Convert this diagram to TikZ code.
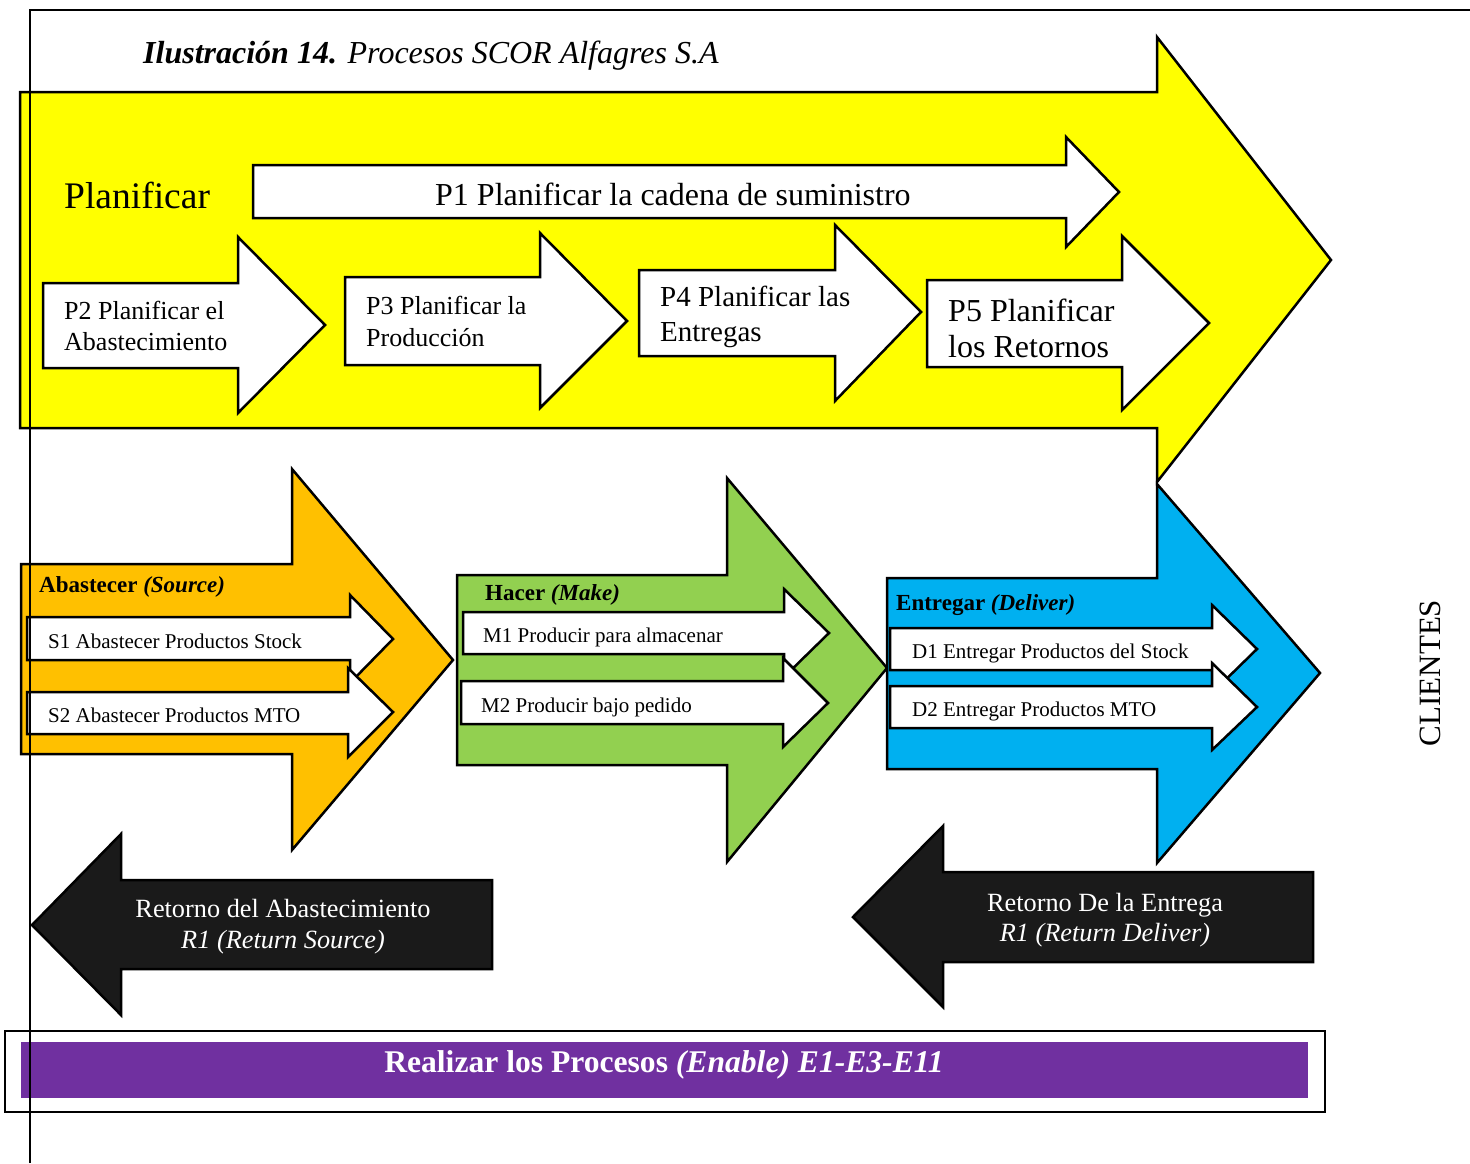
\documentclass[tikz,border=0pt]{standalone}
\usepackage{fontspec}
\setmainfont{Liberation Serif}
\definecolor{amarillo}{HTML}{FFFF00}
\definecolor{naranja}{HTML}{FFC000}
\definecolor{verde}{HTML}{92D050}
\definecolor{azul}{HTML}{00B0F0}
\definecolor{morado}{HTML}{7030A0}
\definecolor{negro}{HTML}{1A1A1A}
% (x body start, x head base)(y body top, y body bottom)(y head top, y head bottom)(tip)
\def\blockarrow[#1](#2,#3)(#4,#5)(#6,#7)(#8,#9){\draw[#1] (#2,#4) -- (#3,#4) -- (#3,#6) -- (#8,#9) -- (#3,#7) -- (#3,#5) -- (#2,#5) -- cycle;}
\newcommand{\tam}[2]{\fontsize{#1}{#2}\selectfont}
\tikzset{
  flecha/.style={draw=black, line width=2.5pt, line join=miter},
  texto/.style={inner sep=0pt, anchor=base west},
  bloque/.style={inner sep=0pt, anchor=west, align=left},
}

\begin{document}
\begin{tikzpicture}[x=1pt, y=-1pt]
			%%%%% START %%%%%
			\useasboundingbox (0,0) rectangle (1470,1163);
			
			\node[texto, font=\tam{32}{38}\itshape] (titulo) at (143,63) {\bfseries Ilustración 14.\mdseries{} Procesos SCOR Alfagres S.A};
			
			% planificar
			\blockarrow[flecha, fill=amarillo](20,1157)(92,428)(37,482)(1331,260)
			\node[texto, font=\tam{37.5}{44}] (planificar) at (64,208) {Planificar};
			
			\blockarrow[flecha, fill=white](253,1066)(165,218)(137,247)(1119,192)
			\node[texto, font=\tam{32}{38}] (p1) at (435,205) {P1 Planificar la cadena de suministro};
			
			\blockarrow[flecha, fill=white](43,238)(283,368)(237,413)(325,325)
			\node[bloque, font=\tam{26}{31}] (p2) at (64,326) {P2 Planificar el\\Abastecimiento};
			\blockarrow[flecha, fill=white](345,540)(277,365)(233,408)(627,321)
			\node[bloque, font=\tam{26}{32}] (p3) at (366,321) {P3 Planificar la\\Producción};
			\blockarrow[flecha, fill=white](639,835)(270,356)(225,401)(921,312)
			\node[bloque, font=\tam{29}{35}] (p4) at (660,317) {P4 Planificar las\\Entregas};
			\blockarrow[flecha, fill=white](927,1122)(280,367)(236,410)(1209,323)
			\node[bloque, font=\tam{32}{36}] (p5) at (948,328) {P5 Planificar\\los Retornos};
			
			% abastecer
			\blockarrow[flecha, fill=naranja](21,292)(564,754)(469,850)(453,660)
			\node[texto, font=\tam{23}{28}] (abastecer) at (39,592) {\bfseries Abastecer \itshape(Source)};
			\blockarrow[flecha, fill=white](27,350)(617,660)(595,683)(393,639)
			\blockarrow[flecha, fill=white](27,348)(692,734)(668,757)(393,712)
			\node[texto, font=\tam{21}{25}] (s1) at (48,648) {S1 Abastecer Productos Stock};
			\node[texto, font=\tam{21}{25}] (s2) at (48,722) {S2 Abastecer Productos MTO};
			
			% hacer
			\blockarrow[flecha, fill=verde](457,727)(575,765)(478,862)(887,668)
			\node[texto, font=\tam{23}{28}] (hacer) at (485,600) {\bfseries Hacer \itshape(Make)};
			\blockarrow[flecha, fill=white](463,784)(612,654)(589,677)(829,633)
			\blockarrow[flecha, fill=white](461,783)(681,724)(658,747)(828,703)
			\node[texto, font=\tam{21}{25}] (m1) at (483,642) {M1 Producir para almacenar};
			\node[texto, font=\tam{21}{25}] (m2) at (481,712) {M2 Producir bajo pedido};
			
			% entregar
			\blockarrow[flecha, fill=azul](887,1157)(578,769)(484,863)(1320,673)
			\node[texto, font=\tam{23}{28}] (entregar) at (896,610) {\bfseries Entregar \itshape(Deliver)};
			\blockarrow[flecha, fill=white](890,1212)(628,670)(605,693)(1257,649)
			\blockarrow[flecha, fill=white](890,1212)(686,728)(663,750)(1257,707)
			\node[texto, font=\tam{21}{25}] (d1) at (912,658) {D1 Entregar Productos del Stock};
			\node[texto, font=\tam{21}{25}] (d2) at (912,716) {D2 Entregar Productos MTO};
			
			\node[rotate=90, inner sep=0pt, font=\tam{31}{37}] (clientes) at (1430,673) {CLIENTES};
			
			% retornos
			\blockarrow[flecha, fill=negro](492,121)(880,969)(834,1015)(32,925)
			\node[inner sep=0pt, align=center, text=white, font=\tam{26.3}{31}] (rsource) at (283,927) {Retorno del Abastecimiento\\\itshape R1 (Return Source)};
			\blockarrow[flecha, fill=negro](1313,943)(872,962)(826,1007)(853,917)
			\node[inner sep=0pt, align=center, text=white, font=\tam{26.3}{30}] (rdeliver) at (1105,920) {Retorno De la Entrega\\\itshape R1 (Return Deliver)};
			
			% enable
			\draw[line width=2pt, fill=white] (5,1031) rectangle (1325,1112);
			\fill[morado] (21,1042) rectangle (1308,1098);
			\node[inner sep=0pt, anchor=base, text=white, font=\tam{31.6}{37}] (enable) at (664,1072) {\bfseries Realizar los Procesos \itshape(Enable) E1-E3-E11};
			
			\draw[line width=2pt] (30,1163) -- (30,10) -- (1470,10);
			%%%%% END %%%%%
		\end{tikzpicture}
\end{document}
